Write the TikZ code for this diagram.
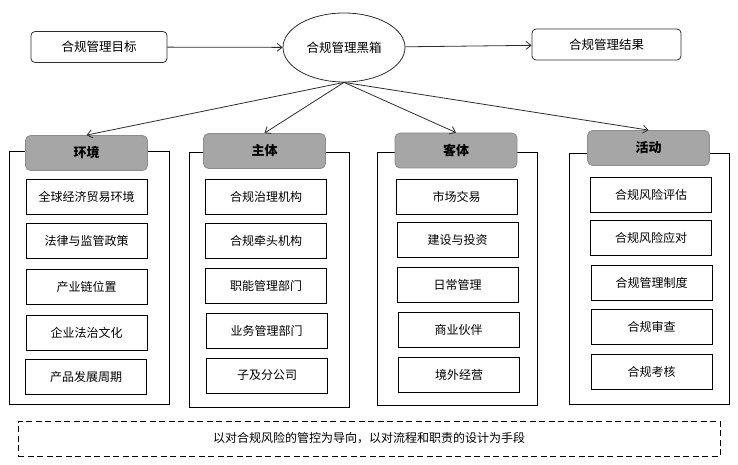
\documentclass[tikz,border=0pt]{standalone}
\usepackage{fontspec}
\usepackage{tikz}
\usepackage{xcolor}
\usetikzlibrary{shapes.geometric, arrows.meta}
\newfontfamily\cjk{Noto Sans CJK SC}
\definecolor{linegray}{RGB}{45, 45, 45}
\definecolor{headgray}{RGB}{166, 166, 166}
\definecolor{headborder}{RGB}{140, 140, 140}

\begin{document}
\begin{tikzpicture}[
	x=1pt, y=-1pt,
	% node styles
	endbox/.style={
			rectangle,
			rounded corners=4pt,
			minimum height=31pt,
			draw=linegray,
			line width=0.8pt,
			font=\cjk\fontsize{12.5}{14}\selectfont
		},
	blackbox/.style={
			ellipse,
			minimum width=122pt,
			minimum height=69pt,
			draw=linegray,
			line width=0.8pt,
			font=\cjk\fontsize{12.5}{14}\selectfont
		},
	framebox/.style={
			rectangle,
			minimum width=160pt,
			draw=black,
			line width=0.8pt
		},
	headbox/.style={
			rectangle,
			rounded corners=5pt,
			minimum width=122pt,
			minimum height=35pt,
			fill=headgray,
			draw=headborder,
			line width=0.8pt,
			font=\cjk\bfseries\fontsize{13}{15}\selectfont
		},
	itembox/.style={
			rectangle,
			minimum width=121pt,
			minimum height=35pt,
			draw=black,
			line width=0.8pt,
			font=\cjk\fontsize{12}{14}\selectfont
		},
	notebox/.style={
			rectangle,
			minimum width=702pt,
			minimum height=35pt,
			draw=black,
			line width=0.8pt,
			dash pattern=on 6pt off 3.5pt,
			font=\cjk\fontsize{12}{14}\selectfont
		},
	arrow/.style={
	-{Straight Barb[length=5pt, width=8pt]},
	line width=0.8pt,
	color=linegray
	}
	]

	\useasboundingbox (0, 0) rectangle (738, 465);

	% Top row: goal, black box, result
	\node[endbox, minimum width=136pt] (goal) at (99, 47) {合规管理目标};
	\node[blackbox] (blackbox) at (344, 47.5) {合规管理黑箱};
	\node[endbox, minimum width=149pt] (result) at (606.5, 44.5) {合规管理结果};

	% Outer frames of the four columns
	\node[framebox, minimum height=253pt] (envframe) at (89, 277.5) {};
	\node[framebox, minimum height=255pt] (subjframe) at (269, 279.5) {};
	\node[framebox, minimum height=253pt] (objframe) at (457, 278.5) {};
	\node[framebox, minimum height=251pt] (actframe) at (649, 278.5) {};

	% Column headers
	\node[headbox] (env) at (86.5, 153) {环境};
	\node[headbox] (subj) at (264.5, 151) {主体};
	\node[headbox] (obj) at (456, 150.5) {客体};
	\node[headbox] (act) at (648.5, 148) {活动};

	% Environment items
	\node[itembox] (env1) at (86.5, 197) {全球经济贸易环境};
	\node[itembox] (env2) at (86.5, 241) {法律与监管政策};
	\node[itembox] (env3) at (86.5, 286.5) {产业链位置};
	\node[itembox] (env4) at (86.5, 332.5) {企业法治文化};
	\node[itembox] (env5) at (86, 376.5) {产品发展周期};

	% Subject items
	\node[itembox] (subj1) at (266, 197) {合规治理机构};
	\node[itembox] (subj2) at (266, 241) {合规牵头机构};
	\node[itembox] (subj3) at (266, 285.5) {职能管理部门};
	\node[itembox] (subj4) at (266.5, 330.5) {业务管理部门};
	\node[itembox] (subj5) at (267, 375.5) {子及分公司};

	% Object items
	\node[itembox] (obj1) at (456.5, 196.5) {市场交易};
	\node[itembox] (obj2) at (457.5, 239.5) {建设与投资};
	\node[itembox] (obj3) at (457.5, 284.5) {日常管理};
	\node[itembox] (obj4) at (458.5, 330) {商业伙伴};
	\node[itembox] (obj5) at (459, 374.5) {境外经营};

	% Activity items
	\node[itembox] (act1) at (651, 194.5) {合规风险评估};
	\node[itembox] (act2) at (651, 238) {合规风险应对};
	\node[itembox] (act3) at (651.5, 283) {合规管理制度};
	\node[itembox] (act4) at (651.5, 326.5) {合规审查};
	\node[itembox] (act5) at (651.5, 371.5) {合规考核};

	% Bottom note
	\node[notebox] (note) at (369, 438.5) {以对合规风险的管控为导向，以对流程和职责的设计为手段};

	% Arrows
	\draw[arrow] (goal) -- (blackbox);
	\draw[arrow] (blackbox) -- (result);
	\draw[arrow] (blackbox.south) -- (env.north);
	\draw[arrow] (blackbox.south) -- (subj.north);
	\draw[arrow] (blackbox.south) -- (obj.north);
	\draw[arrow] (blackbox.south) -- (act.north);

\end{tikzpicture}
\end{document}
